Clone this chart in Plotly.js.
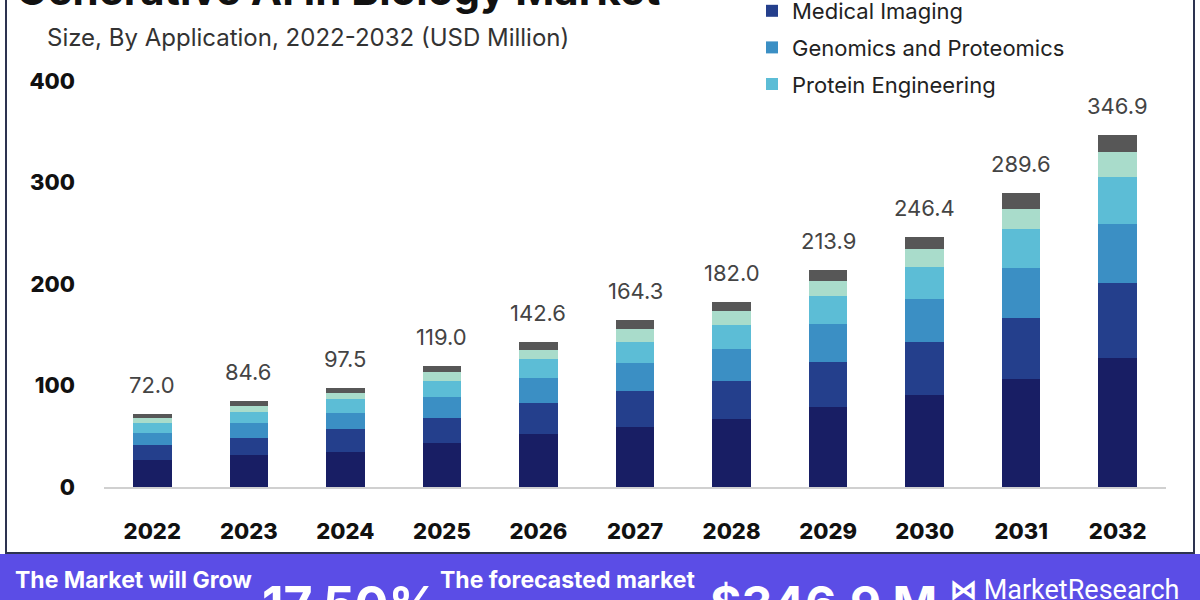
<!DOCTYPE html>
<html>
<head>
<meta charset="utf-8">
<script src="https://cdn.plot.ly/plotly-3.0.1.min.js"></script>
<style>
html,body{margin:0;padding:0;background:#ffffff;}
#chart{width:1200px;height:600px;}
</style>
</head>
<body>
<div id="chart"></div>
<script>
// ---- data ----
var years = ['2022','2023','2024','2025','2026','2027','2028','2029','2030','2031','2032'];
var totals = [72.0, 84.6, 97.5, 119.0, 142.6, 164.3, 182.0, 213.9, 246.4, 289.6, 346.9];
var drugDiscovery = [26.4, 31.1, 34.7, 43.2, 52.2, 59.4, 66.9, 78.9, 90.5, 106.8, 127.6];
var medicalImaging = [14.6, 17.4, 22.2, 24.6, 30.7, 35.7, 37.9, 44.3, 52.8, 59.7, 73.3];
var genomicsProteomics = [12.5, 14.9, 16.4, 20.6, 24.3, 27.1, 31.1, 37.6, 41.6, 49.9, 58.5];
var proteinEngineering = [9.9, 10.6, 13.3, 16.3, 18.7, 21.1, 23.7, 27.3, 32.4, 37.9, 46.2];
var diagnostics = [4.6, 5.9, 5.9, 8.3, 9.3, 12.6, 13.5, 14.9, 17.1, 20.1, 24.2];
var others = [4.0, 4.7, 5.0, 6.0, 7.4, 8.4, 8.9, 10.9, 12.0, 15.2, 17.1];
var yTicks = [0, 100, 200, 300, 400];

// ---- layout helpers ----
var W = 1200, H = 600, M = {l:104, r:34, t:61, b:113, autoexpand:false};
function px(x){ return (x - M.l) / (W - M.l - M.r); }
function py(y){ return (H - M.b - y) / (H - M.t - M.b); }

var font = 'Inter, "Open Sans", sans-serif';

function barTrace(name, vals, color, show){
  return {
    type:'bar', name:name, x:years, y:vals,
    marker:{color:color, line:{width:0}},
    showlegend:show, legendgroup:name,
    hoverinfo:'x+y+name'
  };
}

var data = [
  barTrace('Drug Discovery', drugDiscovery, '#181e64', false),
  barTrace('Medical Imaging', medicalImaging, '#243f8c', true),
  barTrace('Genomics and Proteomics', genomicsProteomics, '#3b8fc4', true),
  barTrace('Protein Engineering', proteinEngineering, '#5cbdd6', true),
  barTrace('Diagnostics', diagnostics, '#a9dccb', false),
  barTrace('Others', others, '#575757', false)
];

var annotations = years.map(function(yr, i){
  return {x:i, y:totals[i], xref:'x', yref:'y', text:totals[i].toFixed(1),
    showarrow:false, yanchor:'bottom', yshift:14,
    font:{family:font, size:22, color:'#444444'}};
});

annotations.push(
  {xref:'paper', yref:'paper', x:px(14), y:py(-10), xanchor:'left', yanchor:'middle',
   text:'<b>Generative AI in Biology Market</b>', showarrow:false,
   font:{family:font, size:42, color:'#111111'}},
  {xref:'paper', yref:'paper', x:px(45), y:py(37), xanchor:'left', yanchor:'middle',
   text:'Size, By Application, 2022-2032 (USD Million)', showarrow:false,
   font:{family:font, size:24, color:'#333333'}},
  {xref:'paper', yref:'paper', x:px(13), y:py(580), xanchor:'left', yanchor:'middle',
   text:'<b>The Market will Grow</b>', showarrow:false,
   font:{family:font, size:23, color:'#ffffff'}},
  {xref:'paper', yref:'paper', x:px(260), y:py(604), xanchor:'left', yanchor:'middle',
   text:'<b>17.50%</b>', showarrow:false,
   font:{family:font, size:50, color:'#ffffff'}},
  {xref:'paper', yref:'paper', x:px(438), y:py(580), xanchor:'left', yanchor:'middle',
   text:'<b>The forecasted market</b>', showarrow:false,
   font:{family:font, size:23, color:'#ffffff'}},
  {xref:'paper', yref:'paper', x:px(708), y:py(603), xanchor:'left', yanchor:'middle',
   text:'<b>$346.9 M</b>', showarrow:false,
   font:{family:font, size:48, color:'#ffffff'}},
  {xref:'paper', yref:'paper', x:px(948), y:py(590), xanchor:'left', yanchor:'middle',
   text:'<b>⋈</b> MarketResearch', showarrow:false,
   font:{family:'Roboto, sans-serif', size:27, color:'#ffffff'}}
);

var shapes = [
  {type:'rect', xref:'paper', yref:'paper', x0:px(6), x1:px(1194), y0:py(-5), y1:py(553),
   line:{color:'#2d3350', width:2}, fillcolor:'rgba(0,0,0,0)', layer:'below'},
  {type:'rect', xref:'paper', yref:'paper', x0:px(0), x1:px(1200), y0:py(554), y1:py(602),
   line:{width:0}, fillcolor:'#5b4de6', layer:'above'}
];

var layout = {
  width:W, height:H,
  margin:M,
  paper_bgcolor:'#ffffff', plot_bgcolor:'#ffffff',
  barmode:'stack', bargap:0.6,
  showlegend:true,
  legend:{x:px(752), y:py(-10), xanchor:'left', yanchor:'top', traceorder:'grouped',
          font:{family:font, size:22, color:'#222222'}, bgcolor:'rgba(0,0,0,0)',
          tracegroupgap:5, itemwidth:30},
  xaxis:{type:'category', range:[-0.5, 10.5], showgrid:false, zeroline:false,
         showline:true, linecolor:'#d0d0d0', linewidth:2, ticks:'',
         ticklabelstandoff:24,
         tickfont:{family:font, size:22, color:'#111111', weight:800}, fixedrange:true},
  yaxis:{range:[0, 420], tickvals:yTicks, ticktext:yTicks.map(String), showgrid:false,
         zeroline:false, showline:false, ticks:'', ticklabelstandoff:28,
         tickfont:{family:font, size:22, color:'#111111', weight:800}, fixedrange:true},
  annotations:annotations,
  shapes:shapes
};

Plotly.newPlot('chart', data, layout, {displayModeBar:false, staticPlot:true});
</script>
</body>
</html>
